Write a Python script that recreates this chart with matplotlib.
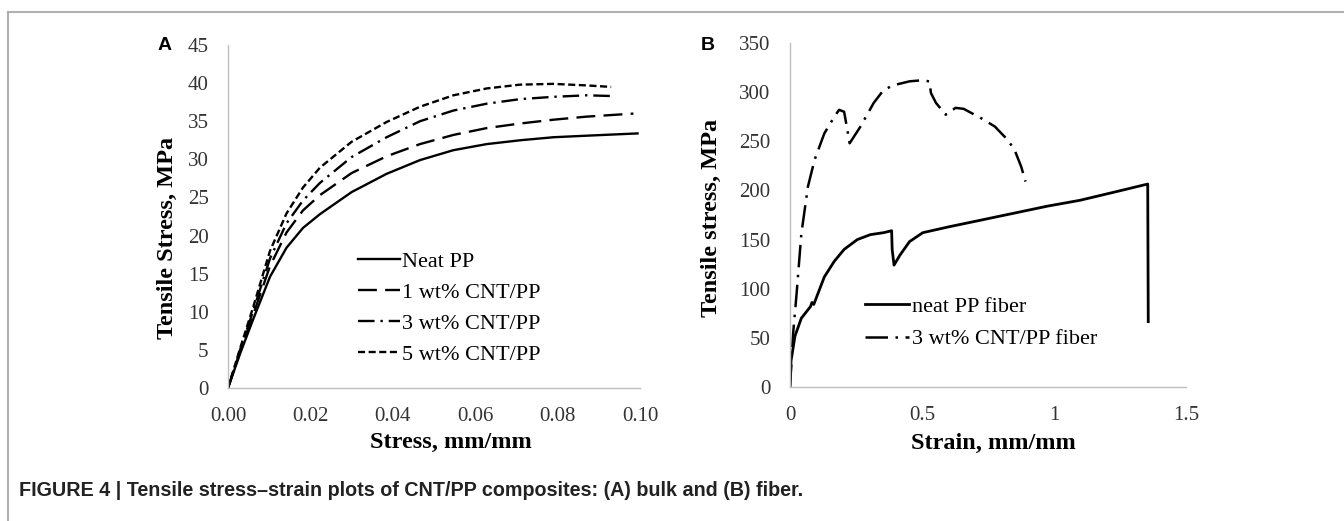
import matplotlib
matplotlib.use("Agg")
import matplotlib.pyplot as plt
from matplotlib.lines import Line2D

# panel A: bulk composites (strain, stress)
strain_neat = [0, 0.003, 0.0061, 0.0102, 0.0142, 0.0182, 0.0223, 0.03, 0.0385, 0.0466, 0.0547, 0.0628, 0.0709, 0.079, 0.087, 0.0994]
stress_neat = [0, 4.6, 9.0, 14.6, 18.4, 21.0, 22.8, 25.7, 28.1, 29.9, 31.2, 32.0, 32.5, 32.9, 33.1, 33.4]

strain_1wt = [0, 0.003, 0.0061, 0.0102, 0.0142, 0.0182, 0.0223, 0.03, 0.0385, 0.0466, 0.0547, 0.0628, 0.0709, 0.079, 0.087, 0.0984]
stress_1wt = [0, 4.9, 9.6, 16.0, 20.4, 23.3, 25.3, 28.2, 30.4, 32.0, 33.2, 34.1, 34.7, 35.2, 35.6, 36.0]

strain_3wt = [0, 0.003, 0.0061, 0.0102, 0.0142, 0.0182, 0.0223, 0.03, 0.0385, 0.0466, 0.0547, 0.0628, 0.0709, 0.079, 0.087, 0.0935]
stress_3wt = [0, 5.1, 10.1, 17.0, 21.6, 24.6, 26.9, 30.3, 32.9, 35.0, 36.4, 37.3, 37.9, 38.2, 38.4, 38.3]

strain_5wt = [0, 0.003, 0.0061, 0.0102, 0.0142, 0.0182, 0.0223, 0.03, 0.0385, 0.0466, 0.0547, 0.0628, 0.0709, 0.079, 0.087, 0.093]
stress_5wt = [0, 5.3, 10.6, 18.0, 22.9, 26.3, 28.9, 32.3, 34.9, 36.9, 38.4, 39.3, 39.8, 39.9, 39.7, 39.5]

# panel B: fibers
strain_fiber = [0, 0.004, 0.019, 0.043, 0.078, 0.083, 0.09, 0.13, 0.168, 0.205, 0.255, 0.304, 0.354, 0.385, 0.387,
                0.394, 0.416, 0.453, 0.503, 0.602, 0.727, 0.851, 0.975, 1.099, 1.224, 1.355, 1.357]
stress_fiber = [0, 27, 52, 70, 82, 86, 84, 112, 128, 140, 150, 155, 157, 159, 140,
                124, 134, 148, 157, 163, 170, 177, 184, 190, 198, 206.5, 66.5]

strain_cnt_fiber = [0, 0.012, 0.025, 0.043, 0.068, 0.093, 0.13, 0.168, 0.186, 0.205, 0.215, 0.226, 0.267, 0.317,
                    0.354, 0.391, 0.453, 0.497, 0.528, 0.534, 0.553, 0.59, 0.627, 0.658, 0.727, 0.776, 0.826,
                    0.851, 0.876, 0.892]
stress_cnt_fiber = [0, 55, 95, 156, 204, 231, 258, 275, 282, 280, 265, 248, 265, 289,
                    302, 307, 311, 312, 311, 299, 289, 277, 284, 283, 273, 265, 251,
                    241, 224, 209]

labels_a = ["Neat PP", "1 wt% CNT/PP", "3 wt% CNT/PP", "5 wt% CNT/PP"]
labels_b = ["neat PP fiber", "3 wt% CNT/PP fiber"]
xticks_a = [0, 0.02, 0.04, 0.06, 0.08, 0.10]
yticks_a = list(range(0, 46, 5))
xticks_b = [0, 0.5, 1, 1.5]
xtick_labels_b = ["0", "0.5", "1", "1.5"]
yticks_b = list(range(0, 351, 50))
caption = "FIGURE 4 | Tensile stress\u2013strain plots of CNT/PP composites: (A) bulk and (B) fiber."

W, H = 1344, 521
serif = "Liberation Serif"
sans = ["Liberation Sans", "DejaVu Sans"]

fig = plt.figure(figsize=(W / 100, H / 100), dpi=100)


def fx(px):
    return px / W


def fy(py):
    return 1 - py / H


def style_axes(ax):
    for s in ["top", "right"]:
        ax.spines[s].set_visible(False)
    for s in ["left", "bottom"]:
        ax.spines[s].set_color("#bfbfbf")
        ax.spines[s].set_linewidth(1.0)
    ax.tick_params(length=0, labelsize=15, labelcolor="#333333", pad=14)
    for t in ax.get_xticklabels() + ax.get_yticklabels():
        t.set_fontfamily(serif)


ax1 = fig.add_axes([fx(228), fy(388), fx(640) - fx(228), fy(45) - fy(388)])
lw = 1.7
ax1.plot(strain_neat, stress_neat, color="black", lw=lw, ls="-")
ax1.plot(strain_1wt, stress_1wt, color="black", lw=lw, ls=(0, (8, 3.5)))
ax1.plot(strain_3wt, stress_3wt, color="black", lw=lw, ls=(0, (7, 2.5, 1, 2.5)))
ax1.plot(strain_5wt, stress_5wt, color="black", lw=lw, ls=(0, (3, 1.5)))
ax1.set_xlim(0, 0.10)
ax1.set_ylim(0, 45)
ax1.set_xticks(xticks_a)
ax1.set_xticklabels([f"{v:.2f}" for v in xticks_a])
ax1.set_yticks(yticks_a)
style_axes(ax1)

handles_a = [Line2D([], [], color="black", lw=lw, ls="-"),
             Line2D([], [], color="black", lw=lw, ls=(0, (8, 3.5))),
             Line2D([], [], color="black", lw=lw, ls=(0, (7, 2.5, 1, 2.5))),
             Line2D([], [], color="black", lw=lw, ls=(0, (3, 1.5)))]
ax1.legend(handles_a, labels_a, loc="upper left", bbox_to_anchor=(fx(358), fy(251)),
           bbox_transform=fig.transFigure, frameon=False, borderpad=0, borderaxespad=0,
           handlelength=1.9, handletextpad=0.1, labelspacing=0.47,
           prop={"family": serif, "size": 16})

ax1.set_ylabel("Tensile Stress, MPa", fontfamily=serif, fontweight="bold", fontsize=17.5)
ax1.yaxis.set_label_coords((167 - 228) / 412, (388 - 238) / 343)
ax1.yaxis.label.set_va("center")
ax1.set_xlabel("Stress, mm/mm", fontfamily=serif, fontweight="bold", fontsize=17.5)
ax1.xaxis.set_label_coords((451 - 228) / 412, (388 - 442) / 343)
ax1.xaxis.label.set_va("center")

ax2 = fig.add_axes([fx(790), fy(387), fx(1186) - fx(790), fy(43) - fy(387)])
ax2.plot(strain_fiber, stress_fiber, color="black", lw=2.0, ls="-")
ax2.plot(strain_cnt_fiber, stress_cnt_fiber, color="black", lw=1.8, ls=(0, (9, 3, 1, 3)))
ax2.set_xlim(0, 1.5)
ax2.set_ylim(0, 350)
ax2.set_xticks(xticks_b)
ax2.set_xticklabels(xtick_labels_b)
ax2.set_yticks(yticks_b)
style_axes(ax2)

handles_b = [Line2D([], [], color="black", lw=2.0, ls="-"),
             Line2D([], [], color="black", lw=1.8, ls=(0, (9, 3, 1, 3)))]
ax2.legend(handles_b, labels_b, loc="upper left", bbox_to_anchor=(fx(865), fy(296)),
           bbox_transform=fig.transFigure, frameon=False, borderpad=0, borderaxespad=0,
           handlelength=2.0, handletextpad=0.1, labelspacing=0.55,
           prop={"family": serif, "size": 16})

ax2.set_ylabel("Tensile stress, MPa", fontfamily=serif, fontweight="bold", fontsize=17.5)
ax2.yaxis.set_label_coords((711 - 790) / 396, (387 - 218) / 344)
ax2.yaxis.label.set_va("center")
ax2.set_xlabel("Strain, mm/mm", fontfamily=serif, fontweight="bold", fontsize=17.5)
ax2.xaxis.set_label_coords((993 - 790) / 396, (387 - 443) / 344)
ax2.xaxis.label.set_va("center")

fig.text(fx(165), fy(45), "A", ha="center", va="center", fontweight="bold", fontsize=14, family=sans)
fig.text(fx(708), fy(45), "B", ha="center", va="center", fontweight="bold", fontsize=14, family=sans)

# light frame (top and left edges)
fig.add_artist(Line2D([fx(8), 1], [fy(11.5), fy(11.5)], color="#b0b0b0", lw=1.5))
fig.add_artist(Line2D([fx(8), fx(8)], [fy(11.5), 0], color="#b0b0b0", lw=1.5))

fig.text(fx(19), fy(491), caption, ha="left", va="center", fontweight="bold", fontsize=14.2,
         family=sans, color="#222222")

fig.savefig("out.png", dpi=100)
